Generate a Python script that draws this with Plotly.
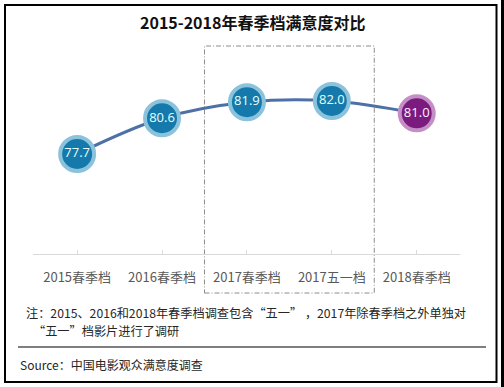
import plotly.graph_objects as go

categories = ["2015春季档", "2016春季档", "2017春季档", "2017五一档", "2018春季档"]
values = [77.7, 80.6, 81.9, 82.0, 81.0]
labels = ["77.7", "80.6", "81.9", "82.0", "81.0"]
title_text = "2015-2018年春季档满意度对比"
note_line1 = "注：2015、2016和2018年春季档调查包含“五一” ，2017年除春季档之外单独对"
note_line2 = "“五一”档影片进行了调研"
source_text = "Source：中国电影观众满意度调查"

W, H = 504, 387
L, R, T, B = 33, 460, 46, 254  # plot area in pixels


def px(x):
    return (x - L) / (R - L)


def py(y):
    return (B - y) / (B - T)


fill_colors = ["#157aab", "#157aab", "#157aab", "#157aab", "#7b1b7d"]
edge_colors = ["#8cc3dc", "#8cc3dc", "#8cc3dc", "#8cc3dc", "#c48ec6"]
text_colors = ["#e6ffff", "#e6ffff", "#e6ffff", "#e6ffff", "#fff0ff"]

xs = list(range(len(categories)))

fig = go.Figure()
fig.add_trace(go.Scatter(
    x=xs, y=values, mode="lines",
    line=dict(color="#4d70a6", width=3, shape="spline", smoothing=1.0),
    hoverinfo="skip", showlegend=False,
))
fig.add_trace(go.Scatter(
    x=xs, y=values, mode="markers+text",
    marker=dict(size=34, color=fill_colors, line=dict(color=edge_colors, width=4)),
    text=labels, textposition="middle center",
    textfont=dict(family="Open Sans, Noto Sans CJK SC", size=13, color=text_colors),
    cliponaxis=False, showlegend=False,
))

fig.update_layout(
    width=W, height=H,
    margin=dict(l=L, r=W - R, t=T, b=H - B),
    paper_bgcolor="white", plot_bgcolor="white",
    font=dict(family="Noto Sans CJK SC, Open Sans", color="#262626"),
    xaxis=dict(
        range=[-0.52, 4.51], tickvals=xs, ticktext=categories,
        showline=True, linecolor="#d9d9d9", linewidth=1,
        showgrid=False, zeroline=False,
        ticks="inside", ticklen=4, tickcolor="#d9d9d9",
        ticklabelstandoff=11,
        tickfont=dict(family="Noto Sans CJK SC", size=13, color="#595959"),
        fixedrange=True,
    ),
    yaxis=dict(range=[69.59, 86.46], visible=False, fixedrange=True),
    annotations=[
        dict(text="<b>" + title_text + "</b>", xref="paper", yref="paper",
             x=px(252), y=py(22), xanchor="center", yanchor="middle",
             showarrow=False, font=dict(size=16, color="#111111", family="Noto Sans CJK SC")),
        dict(text=note_line1, xref="paper", yref="paper", x=px(24), y=py(313),
             xanchor="left", yanchor="middle", showarrow=False,
             font=dict(size=12.2, color="#262626", family="Noto Sans CJK SC")),
        dict(text=note_line2, xref="paper", yref="paper", x=px(31), y=py(331),
             xanchor="left", yanchor="middle", showarrow=False,
             font=dict(size=12.2, color="#262626", family="Noto Sans CJK SC")),
        dict(text=source_text, xref="paper", yref="paper", x=px(18), y=py(364),
             xanchor="left", yanchor="middle", showarrow=False,
             font=dict(size=12, color="#262626", family="Noto Sans CJK SC")),
    ],
    shapes=[
        dict(type="rect", xref="x", yref="paper", x0=1.5, x1=3.5, y0=py(293), y1=py(46),
             line=dict(color="#8c8c8c", width=1, dash="5px,2px,1px,2px"), layer="below"),
        dict(type="rect", xref="paper", yref="paper", x0=px(5), x1=px(496.5), y0=py(382), y1=py(5),
             line=dict(color="black", width=2)),
        dict(type="line", xref="paper", yref="paper", x0=px(18), x1=px(486), y0=py(347), y1=py(347),
             line=dict(color="black", width=1.2)),
        dict(type="rect", xref="paper", yref="paper", x0=px(501), x1=px(505), y0=py(-2), y1=py(390),
             line=dict(width=0), fillcolor="black"),
    ],
)

fig.write_html(
    "out.html",
    config={"displayModeBar": False, "staticPlot": True},
    post_script="document.body.style.margin='0';document.body.style.overflow='hidden';",
)
